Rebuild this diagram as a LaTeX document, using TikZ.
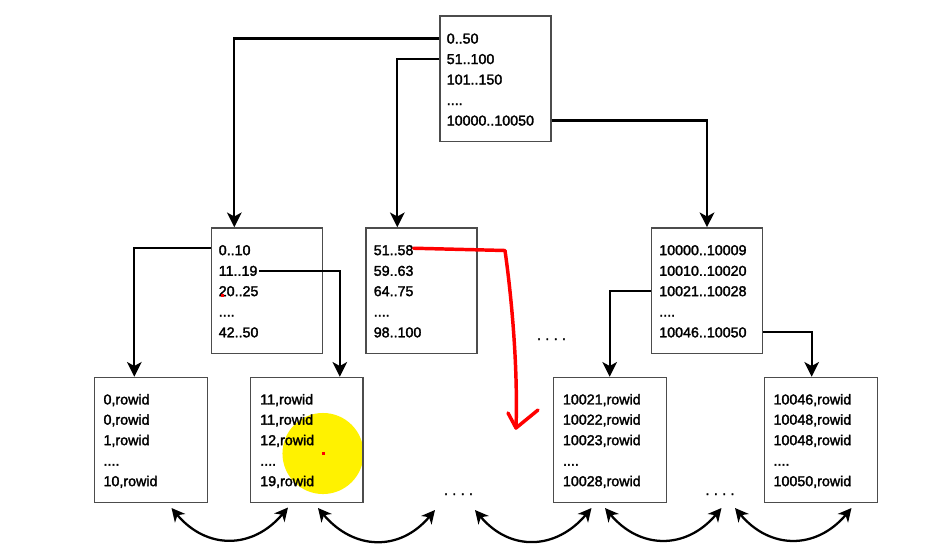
\documentclass[tikz,border=0pt]{standalone}
\usepackage{fontspec}
\setmainfont{Liberation Sans}
\newfontfamily\rowfont[FakeBold=2]{Liberation Sans}
\usetikzlibrary{arrows.meta,calc}
\begin{document}
\begin{tikzpicture}[x=0.75pt,y=-0.75pt,
  box/.style={draw=black!70,line width=1pt,minimum height=94pt,inner sep=0pt},
  rowtxt/.style={anchor=base west,inner sep=0pt,text height=7.7pt,text depth=0pt,
    font=\rowfont\fontsize{10.7}{13}\selectfont},
  conn/.style={line width=1.7pt,-{Stealth[length=11pt,width=11pt,inset=3pt]}},
  link/.style={line width=1.7pt,{Stealth[length=10pt,width=10pt,inset=3pt]}-{Stealth[length=10pt,width=10pt,inset=3pt]},
    looseness=1.2},
  gap/.style={anchor=base,inner sep=0pt,font=\rowfont\fontsize{10.7}{13}\selectfont},
  redpen/.style={draw=red,line width=2.6pt,line cap=round,line join=round}
]
\useasboundingbox (0,0) rectangle (928,551);
\fill[white] (0,0) rectangle (928,551);

% highlight spot over the second leaf
\fill[yellow] (323,453.5) circle[radius=30.4pt];
\fill[red] (321.5,452) rectangle (324.5,455);

% root page
\node[box,minimum width=83.3pt] (root) at (495.5,78.5) {};
\node[rowtxt] (r1) at (446.5,43.5) {0..50};
\node[rowtxt] (r2) at (446.5,64) {51..100};
\node[rowtxt] (r3) at (446.5,84.5) {101..150};
\node[rowtxt] (r4) at (446.5,105) {....};
\node[rowtxt] (r5) at (446.5,125.5) {10000..10050};

% branch pages
\node[box,minimum width=83.3pt] (ml) at (267,290.5) {};
\node[rowtxt] (a1) at (218.5,255.1) {0..10};
\node[rowtxt] (a2) at (218.5,275.8) {11..19};
\node[rowtxt] (a3) at (218.5,296.1) {20..25};
\node[rowtxt] (a4) at (218.5,316.5) {....};
\node[rowtxt] (a5) at (218.5,337.3) {42..50};

\node[box,minimum width=83.3pt] (mm) at (421.5,290.5) {};
\node[rowtxt] (b1) at (373.5,255.1) {51..58};
\node[rowtxt] (b2) at (373.5,275.8) {59..63};
\node[rowtxt] (b3) at (373.5,296.1) {64..75};
\node[rowtxt] (b4) at (373.5,316.5) {....};
\node[rowtxt] (b5) at (373.5,337.3) {98..100};

\node[box,minimum width=83.3pt] (mr) at (707,290.5) {};
\node[rowtxt] (q1) at (659,255.1) {10000..10009};
\node[rowtxt] (q2) at (659,275.8) {10010..10020};
\node[rowtxt] (q3) at (659,296.1) {10021..10028};
\node[rowtxt] (q4) at (659,316.5) {....};
\node[rowtxt] (q5) at (659,337.3) {10046..10050};

% leaf pages
\node[box,minimum width=84.8pt] (l1) at (151,440) {};
\node[rowtxt] (c1) at (103.3,404.4) {0,rowid};
\node[rowtxt] (c2) at (103.3,424.6) {0,rowid};
\node[rowtxt] (c3) at (103.3,445.1) {1,rowid};
\node[rowtxt] (c4) at (103.3,465.6) {....};
\node[rowtxt] (c5) at (103.3,486.1) {10,rowid};

\node[box,minimum width=84.4pt] (l2) at (306.75,440) {};
\node[rowtxt] (e1) at (260,404.4) {11,rowid};
\node[rowtxt] (e2) at (260,424.6) {11,rowid};
\node[rowtxt] (e3) at (260,445.1) {12,rowid};
\node[rowtxt] (e4) at (260,465.6) {....};
\node[rowtxt] (e5) at (260,486.1) {19,rowid};

\node[box,minimum width=85pt] (l3) at (610,440) {};
\node[rowtxt] (f1) at (562.7,404.4) {10021,rowid};
\node[rowtxt] (f2) at (562.7,424.6) {10022,rowid};
\node[rowtxt] (f3) at (562.7,445.1) {10023,rowid};
\node[rowtxt] (f4) at (562.7,465.6) {....};
\node[rowtxt] (f5) at (562.7,486.1) {10028,rowid};

\node[box,minimum width=85pt] (l4) at (821,440) {};
\node[rowtxt] (g1) at (773.3,404.4) {10046,rowid};
\node[rowtxt] (g2) at (773.3,424.6) {10048,rowid};
\node[rowtxt] (g3) at (773.3,445.1) {10048,rowid};
\node[rowtxt] (g4) at (773.3,465.6) {....};
\node[rowtxt] (g5) at (773.3,486.1) {10050,rowid};

% elided pages
\node[gap] (d1) at (551.5,340) {.\hspace{3.3pt}.\hspace{3.3pt}.\hspace{3.3pt}.};
\node[gap] (d2) at (458.5,495) {.\hspace{3.3pt}.\hspace{3.3pt}.\hspace{3.3pt}.};
\node[gap] (d3) at (720,495) {.\hspace{3.3pt}.\hspace{3.3pt}.\hspace{3.3pt}.};

% pointers from parent entries to child pages
\draw[conn] (root.west |- r1) -| ($(ml.north west)+(23.5,0)$);
\draw[conn] (root.west |- r2) -| ($(mm.north west)+(32,0)$);
\draw[conn] (root.east |- r5) -| (mr.north);
\draw[conn] ([yshift=1.5pt]ml.west |- a1) -| ($(l1.north west)+(40.5,0)$);
\draw[conn] ([xshift=1pt]a2.east) -| ($(l2.north west)+(90,0)$);
\draw[conn] (mr.west |- q3) -| ($(l3.north west)+(57,0)$);
\draw[conn] (mr.east |- q5) -| ($(l4.north west)+(48,0)$);

% sibling links between leaf pages
\coordinate (s1) at (171.5,508);
\coordinate (s2) at (288,507.5);
\coordinate (s3) at (318,508);
\coordinate (s4) at (435,510);
\coordinate (s5) at (475,510);
\coordinate (s6) at (591.5,508);
\coordinate (s7) at (605,508);
\coordinate (s8) at (721.5,508);
\coordinate (s9) at (735,508);
\coordinate (s10) at (851.5,508);
\draw[link] (s1) to[out=-50,in=-130] (s2);
\draw[link] (s3) to[out=-50,in=-130] (s4);
\draw[link] (s5) to[out=-50,in=-130] (s6);
\draw[link] (s7) to[out=-50,in=-130] (s8);
\draw[link] (s9) to[out=-50,in=-130] (s10);

% red annotation
\fill[red] (221,294) rectangle (224,297);
\coordinate (k1) at (505,250.5);
\coordinate (k2) at (516,428);
\coordinate (k3) at (508,413);
\coordinate (k4) at (538,410);
\draw[redpen] ([yshift=1.3pt]b1.east) -- (k1) .. controls (512,300) and (518,370) .. (k2);
\draw[redpen] (k3) -- (k2) -- (k4);
\end{tikzpicture}
\end{document}
